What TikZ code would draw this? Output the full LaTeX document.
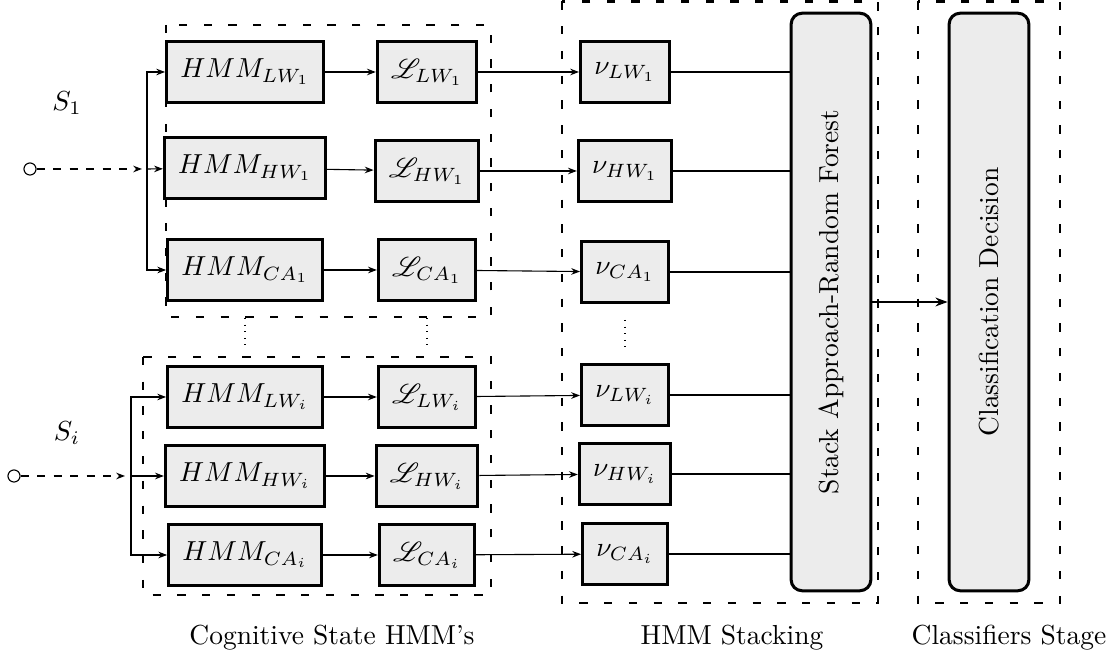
\documentclass[tikz,border=0pt]{standalone}
\usepackage{amsmath}
\usepackage{mathrsfs}
\usetikzlibrary{arrows.meta}
\tikzset{
  >=Stealth,
  box/.style={line width=1.1pt,draw=black,fill=gray!15,inner xsep=5pt,inner ysep=2pt,minimum height=22pt},
  stage/.style={line width=1.1pt,draw=black,fill=gray!15,rounded corners=4pt,minimum width=29pt,minimum height=210pt,inner sep=0pt},
  group/.style={line width=1pt,loosely dashed},
  in port/.style={circle,draw=black,thin,fill=white,minimum size=4.4pt,inner sep=0pt},
  connect/.style={thin},
  connect arrow/.style={-{Stealth[length=3.2pt,width=2.4pt]},thin},
  input arrow/.style={-{Stealth[length=3.2pt,width=2.4pt]},thin,dashed},
  stage arrow/.style={-{Stealth[length=4.4pt,width=3.2pt]},thick},
}

\begin{document}
\begin{tikzpicture}[x=0.3636pt,y=-0.3636pt]
  \useasboundingbox (0,0) rectangle (1113,657);

  % frames of the three stages
  \draw[group] (166,25) rectangle (491,317);
  \draw[group] (143,357) rectangle (491,595);
  \draw[group] (562,1.5) rectangle (878,603);
  \draw[group] (918,1.5) rectangle (1060,603);

  % first subject
  \node[box] (hmmLW1) at (245,72) {$HMM_{LW_1}$};
  \node[box] (hmmHW1) at (245,168) {$HMM_{HW_1}$};
  \node[box] (hmmCA1) at (245,270) {$HMM_{CA_1}$};
  \node[box] (lLW1) at (427,72) {$\mathscr{L}_{LW_1}$};
  \node[box] (lHW1) at (427,171) {$\mathscr{L}_{HW_1}$};
  \node[box] (lCA1) at (427,270) {$\mathscr{L}_{CA_1}$};
  \node[box] (nuLW1) at (625,72) {$\nu_{LW_1}$};
  \node[box] (nuHW1) at (625,171) {$\nu_{HW_1}$};
  \node[box] (nuCA1) at (625,272) {$\nu_{CA_1}$};

  % i-th subject
  \node[box] (hmmLWi) at (245,397) {$HMM_{LW_i}$};
  \node[box] (hmmHWi) at (245,476) {$HMM_{HW_i}$};
  \node[box] (hmmCAi) at (245,555) {$HMM_{CA_i}$};
  \node[box] (lLWi) at (427,397) {$\mathscr{L}_{LW_i}$};
  \node[box] (lHWi) at (427,476) {$\mathscr{L}_{HW_i}$};
  \node[box] (lCAi) at (427,555) {$\mathscr{L}_{CA_i}$};
  \node[box] (nuLWi) at (625,395) {$\nu_{LW_i}$};
  \node[box] (nuHWi) at (625,474) {$\nu_{HW_i}$};
  \node[box] (nuCAi) at (625,554) {$\nu_{CA_i}$};

  \node[stage] (stack) at (831,302) {\rotatebox{90}{Stack Approach-Random Forest}};
  \node[stage] (classif) at (989,302) {\rotatebox{90}{Classification Decision}};

  \node[in port] (in1) at (30,169) {};
  \node[in port] (ini) at (14,476) {};
  \coordinate (tip1) at (142,169);
  \coordinate (br1) at (147,169);
  \coordinate (tipi) at (125,476);
  \coordinate (bri) at (131,476);
  \node (s1) at (67,103) {$S_1$};
  \node (si) at (67,433) {$S_i$};

  \draw[input arrow] (in1) -- (tip1);
  \draw[connect arrow] (br1) |- (hmmLW1);
  \draw[connect arrow] (br1) -- (hmmHW1);
  \draw[connect arrow] (br1) |- (hmmCA1);
  \draw[input arrow] (ini) -- (tipi);
  \draw[connect arrow] (bri) |- (hmmLWi);
  \draw[connect arrow] (bri) -- (hmmHWi);
  \draw[connect arrow] (bri) |- (hmmCAi);

  \foreach \k in {LW1,HW1,CA1,LWi,HWi,CAi}{
    \draw[connect arrow] (hmm\k) -- (l\k);
    \draw[connect arrow] (l\k) -- (nu\k);
    \draw[connect] (nu\k) -- (nu\k -| stack.west);
  }
  \draw[stage arrow] (stack) -- (classif);

  \draw[dotted] (245,318) -- (245,350);
  \draw[dotted] (427,318) -- (427,350);
  \draw[dotted] (625,320) -- (625,352);

  \node (capHMM) at (332,638) {Cognitive State HMM's};
  \node (capStack) at (732,638) {HMM Stacking};
  \node (capClass) at (1009,638) {Classifiers Stage};
\end{tikzpicture}
\end{document}
